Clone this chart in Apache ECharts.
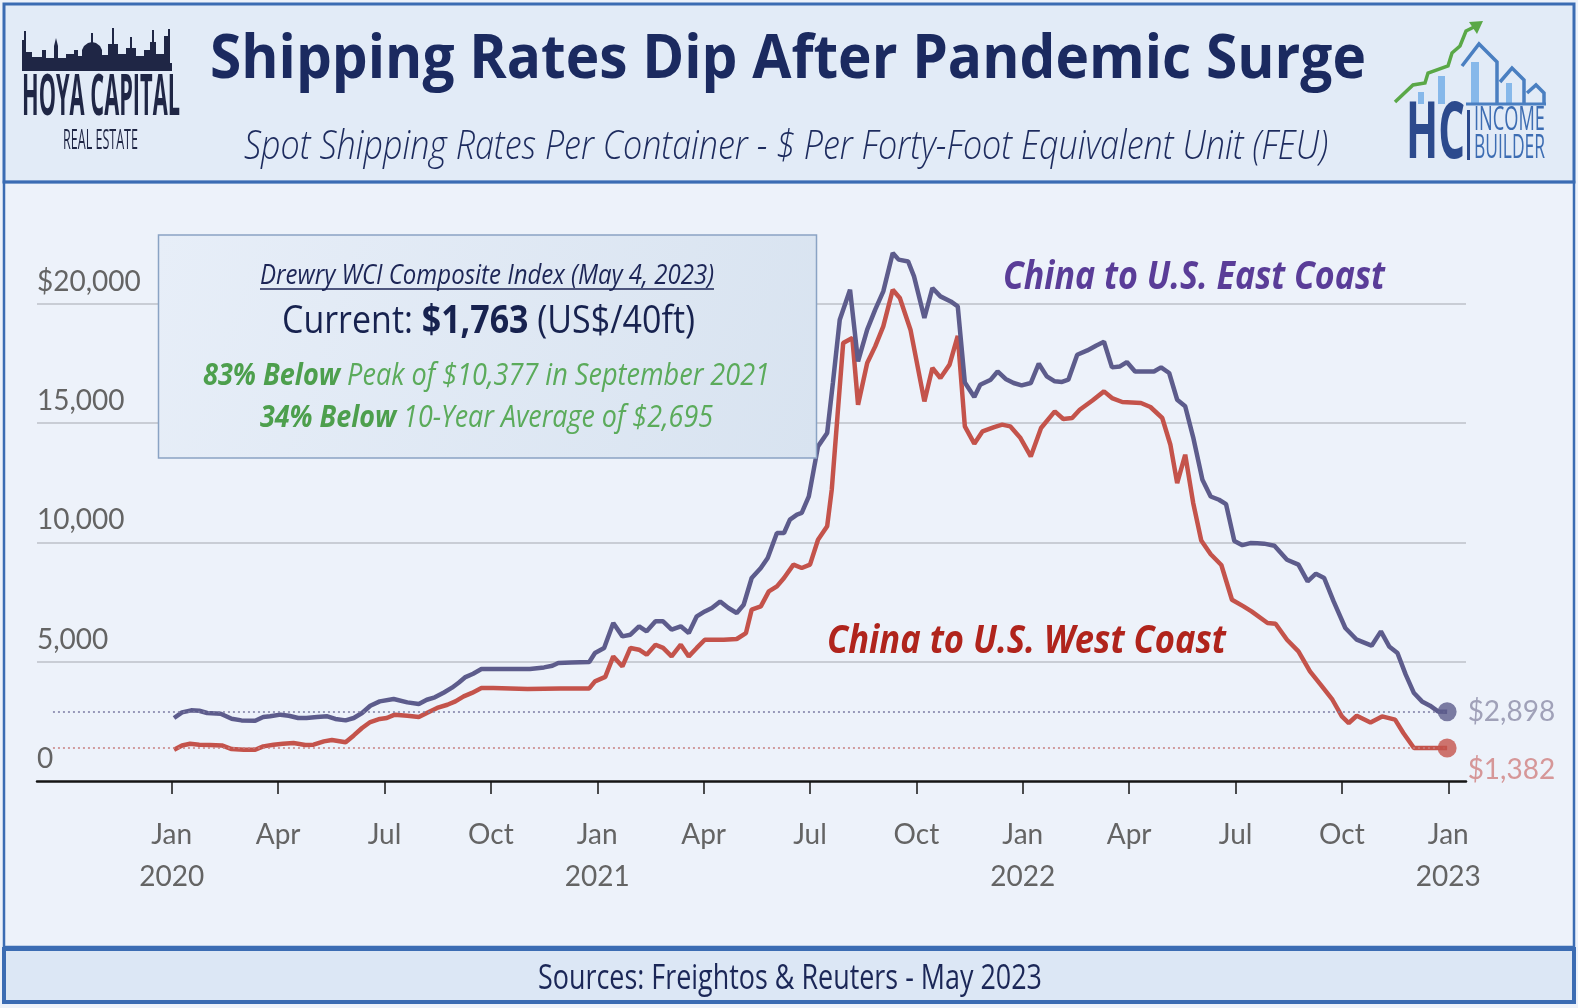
<!DOCTYPE html>
<html><head><meta charset="utf-8">
<script src="https://cdn.jsdelivr.net/npm/echarts@6/dist/echarts.min.js"></script>
<style>html,body{margin:0;padding:0;background:#edf2fa}#c{width:1578px;height:1008px}</style>
</head><body><div id="c"></div>
<script>
// ---------------- DATA ----------------
const eastDates = ['2020-01-03','2020-01-10','2020-01-18','2020-01-25','2020-02-01','2020-02-12','2020-02-21','2020-02-29','2020-03-12','2020-03-19','2020-03-25','2020-04-03','2020-04-10','2020-04-18','2020-04-25','2020-05-04','2020-05-13','2020-05-20','2020-05-29','2020-06-05','2020-06-12','2020-06-19','2020-06-27','2020-07-09','2020-07-21','2020-07-31','2020-08-07','2020-08-14','2020-08-22','2020-08-29','2020-09-04','2020-09-09','2020-09-16','2020-09-23','2020-10-03','2020-10-18','2020-11-04','2020-11-16','2020-11-23','2020-11-28','2020-12-09','2020-12-25','2020-12-30','2021-01-07','2021-01-15','2021-01-23','2021-01-30','2021-02-06','2021-02-12','2021-02-19','2021-02-25','2021-03-04','2021-03-12','2021-03-19','2021-03-26','2021-04-02','2021-04-08','2021-04-15','2021-04-22','2021-04-29','2021-05-05','2021-05-12','2021-05-20','2021-05-26','2021-06-03','2021-06-09','2021-06-14','2021-06-20','2021-06-24','2021-06-30','2021-07-08','2021-07-16','2021-07-21','2021-07-27','2021-08-05','2021-08-12','2021-08-20','2021-08-27','2021-09-03','2021-09-11','2021-09-16','2021-09-24','2021-09-29','2021-10-08','2021-10-15','2021-10-22','2021-10-31','2021-11-06','2021-11-12','2021-11-20','2021-11-25','2021-12-04','2021-12-10','2021-12-17','2021-12-24','2021-12-31','2022-01-08','2022-01-15','2022-01-22','2022-01-29','2022-02-04','2022-02-09','2022-02-16','2022-02-24','2022-03-03','2022-03-10','2022-03-17','2022-03-24','2022-03-30','2022-04-06','2022-04-14','2022-04-22','2022-04-28','2022-05-05','2022-05-12','2022-05-19','2022-05-26','2022-06-03','2022-06-10','2022-06-17','2022-06-23','2022-06-30','2022-07-07','2022-07-14','2022-07-20','2022-07-26','2022-08-04','2022-08-15','2022-08-25','2022-09-02','2022-09-09','2022-09-16','2022-09-24','2022-10-04','2022-10-14','2022-10-27','2022-11-04','2022-11-11','2022-11-18','2022-11-25','2022-12-02','2022-12-09','2022-12-16','2022-12-23','2022-12-31'];
const eastValues = [2640,2875,2960,2945,2850,2820,2610,2540,2525,2680,2710,2780,2735,2640,2640,2680,2710,2600,2540,2640,2850,3155,3335,3435,3295,3225,3405,3505,3710,3910,4130,4340,4495,4690,4690,4690,4690,4760,4830,4945,4970,4985,5365,5575,6620,6060,6130,6480,6270,6690,6690,6340,6480,6200,6900,7105,7250,7525,7250,7040,7385,8505,8925,9345,10390,10390,10950,11160,11230,11925,14020,14580,16675,19330,20585,17580,18910,19750,20515,22125,21845,21770,21145,19400,20655,20305,20095,19885,16700,16090,16605,16815,17160,16845,16675,16575,16675,17485,16955,16745,16720,16815,17860,18040,18240,18405,17330,17370,17555,17160,17160,17160,17330,17095,15975,15700,14400,12625,11920,11785,11600,10060,9880,9970,9960,9945,9860,9270,9065,8365,8685,8505,7525,6410,5920,5670,6270,5640,5365,4455,3685,3335,3155,2915,2898];

const westDates = ['2020-01-03','2020-01-10','2020-01-17','2020-01-25','2020-02-03','2020-02-13','2020-02-21','2020-03-02','2020-03-12','2020-03-19','2020-03-28','2020-04-05','2020-04-14','2020-04-24','2020-05-01','2020-05-10','2020-05-17','2020-05-29','2020-06-05','2020-06-12','2020-06-19','2020-06-27','2020-07-03','2020-07-10','2020-07-21','2020-07-31','2020-08-07','2020-08-16','2020-08-25','2020-09-01','2020-09-08','2020-09-15','2020-09-23','2020-10-03','2020-11-02','2020-11-30','2020-12-25','2020-12-30','2021-01-08','2021-01-15','2021-01-23','2021-01-30','2021-02-06','2021-02-12','2021-02-19','2021-02-25','2021-03-04','2021-03-12','2021-03-19','2021-03-26','2021-04-02','2021-04-18','2021-04-29','2021-05-07','2021-05-12','2021-05-20','2021-05-27','2021-06-03','2021-06-09','2021-06-17','2021-06-24','2021-07-01','2021-07-08','2021-07-16','2021-07-20','2021-07-25','2021-07-30','2021-08-07','2021-08-12','2021-08-20','2021-08-27','2021-09-03','2021-09-11','2021-09-17','2021-09-26','2021-10-08','2021-10-15','2021-10-22','2021-10-30','2021-11-06','2021-11-12','2021-11-20','2021-11-27','2021-12-07','2021-12-14','2021-12-21','2021-12-30','2022-01-08','2022-01-17','2022-01-29','2022-02-05','2022-02-12','2022-02-18','2022-02-28','2022-03-10','2022-03-17','2022-03-26','2022-04-11','2022-04-19','2022-04-29','2022-05-06','2022-05-12','2022-05-19','2022-05-26','2022-06-02','2022-06-10','2022-06-19','2022-06-28','2022-07-08','2022-07-15','2022-07-29','2022-08-05','2022-08-15','2022-08-25','2022-09-04','2022-09-13','2022-09-23','2022-10-01','2022-10-07','2022-10-14','2022-10-26','2022-11-05','2022-11-16','2022-11-23','2022-12-02','2022-12-31'];
const westValues = [1310,1490,1560,1520,1510,1490,1340,1310,1310,1450,1520,1560,1590,1510,1520,1660,1720,1620,1910,2220,2470,2600,2640,2780,2735,2680,2850,3060,3195,3335,3545,3690,3895,3895,3855,3880,3880,4175,4360,5220,4800,5575,5500,5290,5710,5575,5220,5710,5220,5575,5920,5920,5950,6200,7180,7315,7945,8155,8505,9065,8925,9065,10110,10670,12205,15280,18350,18560,15765,17515,18210,19050,20585,20240,18910,15905,17305,16885,17445,18650,14860,14135,14650,14830,14930,14860,14370,13600,14790,15485,15170,15210,15555,15945,16325,16045,15880,15840,15670,15210,14100,12485,13670,11650,10080,9500,9050,7595,7315,7105,6620,6590,5920,5430,4590,4035,3405,2705,2430,2735,2455,2705,2570,2010,1380,1382];

const seriesNames = ['China to U.S. East Coast', 'China to U.S. West Coast'];
const xTickMonths = [0,3,6,9,12,15,18,21,24,27,30,33,36];
const xTickLabels = ['Jan\n2020','Apr','Jul','Oct','Jan\n2021','Apr','Jul','Oct','Jan\n2022','Apr','Jul','Oct','Jan\n2023'];
const yTickValues = [0,5000,10000,15000,20000];
const yTickLabels = ['0','5,000','10,000','15,000','$20,000'];

// ---------------- HELPERS ----------------
function toMonth(s){ const p = s.split('-').map(Number); const dim = new Date(p[0], p[1], 0).getDate(); return (p[0]-2020)*12 + (p[1]-1) + (p[2]-1)/dim; }
function fmt(v){ return '$' + String(v).replace(/\B(?=(\d{3})+(?!\d))/g, ','); }
const eastData = eastDates.map((d,i)=>[toMonth(d), eastValues[i]]);
const westData = westDates.map((d,i)=>[toMonth(d), westValues[i]]);
const eastLast = eastData[eastData.length-1];
const westLast = westData[westData.length-1];

const mctx = document.createElement('canvas').getContext('2d');
const DY = 3;
function fitLine(parts, left, cy, width, z){
  const ws = parts.map(p => { mctx.font = p.font; return mctx.measureText(p.text).width; });
  const tot = ws.reduce((a,b)=>a+b,0); const s = width/tot;
  let x = left; const out = [];
  parts.forEach((p,i)=>{
    out.push({type:'text', x:x, y:cy+DY, scaleX:s, z:z||20, silent:true,
      style:{text:p.text, font:p.font, fill:p.color, textAlign:'left', textVerticalAlign:'middle'}});
    x += ws[i]*s;
  });
  return out;
}
const OS = '"Open Sans", "Noto Sans", sans-serif';
const NAVY = '#1b2a60';

// ---------------- DECORATION ----------------
const skyline = [[22,71],[22,40],[24,40],[24,31],[26,31],[26,52],[32,52],[32,57],[42,57],[42,50],[46,50],[46,58],[54,58],[54,46],[56,38],[58,46],[58,58],[66,58],[66,54],[74,54],[74,50],[78,50],[78,56],[82,56],[82,50],[84,46],[88,43],[92,42],[96,43],[100,46],[102,50],[102,55],[108,55],[108,44],[112,44],[112,28],[114,28],[114,44],[118,44],[118,54],[126,54],[126,48],[130,48],[130,37],[132,37],[132,48],[136,48],[136,56],[144,56],[144,50],[150,50],[150,42],[152,42],[152,30],[154,30],[154,42],[156,42],[156,54],[164,54],[164,36],[168,36],[168,29],[170,29],[170,63],[172,63],[172,71]];

const els = [
  {type:'rect', z:-5, silent:true, shape:{x:4,y:4,width:1570,height:178}, style:{fill:'#e2ebf7', stroke:'#3b6cb3', lineWidth:3}},
  {type:'rect', z:-5, silent:true, shape:{x:4,y:182,width:1570,height:765}, style:{fill:'none', stroke:'#3b6cb3', lineWidth:2.5}},
  {type:'rect', z:-5, silent:true, shape:{x:4,y:949,width:1570,height:53}, style:{fill:'#dce7f5', stroke:'#3b6cb3', lineWidth:4}},
  // left logo
  {type:'polygon', z:10, silent:true, shape:{points:skyline}, style:{fill:'#1f2645'}},
  {type:'rect', z:10, silent:true, shape:{x:91,y:33,width:2,height:10}, style:{fill:'#1f2645'}},
  // right logo
  {type:'rect', z:10, silent:true, shape:{x:1418,y:92,width:6,height:12}, style:{fill:'#86b8ea'}},
  {type:'rect', z:10, silent:true, shape:{x:1438,y:76,width:7,height:28}, style:{fill:'#86b8ea'}},
  {type:'rect', z:10, silent:true, shape:{x:1471,y:62,width:8,height:42}, style:{fill:'#86b8ea'}},
  {type:'rect', z:10, silent:true, shape:{x:1506,y:83,width:6,height:21}, style:{fill:'#86b8ea'}},
  {type:'polyline', z:10, silent:true, shape:{points:[[1462,66],[1479,44],[1497,62],[1497,104]]}, style:{stroke:'#4a7fc1', lineWidth:3.5, fill:null}},
  {type:'polyline', z:10, silent:true, shape:{points:[[1500,82],[1512,68],[1524,80],[1524,104]]}, style:{stroke:'#4a7fc1', lineWidth:3.5, fill:null}},
  {type:'polyline', z:10, silent:true, shape:{points:[[1527,93],[1536,85],[1544,93],[1544,104]]}, style:{stroke:'#4a7fc1', lineWidth:3.5, fill:null}},
  {type:'line', z:10, silent:true, shape:{x1:1466,y1:104,x2:1546,y2:104}, style:{stroke:'#4a7fc1', lineWidth:3}},
  {type:'polyline', z:11, silent:true, shape:{points:[[1395,102],[1413,85],[1425,83],[1428,73],[1448,66],[1452,53],[1460,46],[1466,31],[1474,27]]}, style:{stroke:'#5aa847', lineWidth:3.5, fill:null}},
  {type:'polygon', z:11, silent:true, shape:{points:[[1483,21],[1469,22],[1477,34]]}, style:{fill:'#5aa847'}},
  {type:'rect', z:10, silent:true, shape:{x:1467,y:110,width:3,height:50}, style:{fill:'#2c4a8d'}},
  // annotation box
  {type:'rect', z:8, silent:true, shape:{x:158.5,y:235,width:658,height:223},
    style:{fill:new echarts.graphic.LinearGradient(0,0,1,1,[{offset:0,color:'#e7eef8'},{offset:1,color:'#d8e3f0'}]), stroke:'#8aa3c4', lineWidth:1.5}},
  {type:'line', z:20, silent:true, shape:{x1:260,y1:289,x2:714,y2:289}, style:{stroke:'#1c2556', lineWidth:1.5}}
];
const texts = [].concat(
  fitLine([{text:'Shipping Rates Dip After Pandemic Surge', font:'bold 61px '+OS, color:NAVY}], 210, 58, 1156),
  fitLine([{text:'Spot Shipping Rates Per Container - $ Per Forty-Foot Equivalent Unit (FEU)', font:'italic 300 41px '+OS, color:'#1d2b5e'}], 244, 144, 1084),
  fitLine([{text:'HOYA CAPITAL', font:'bold 57px '+OS, color:'#1f2645'}], 22, 96, 158),
  fitLine([{text:'REAL ESTATE', font:'27px '+OS, color:'#1f2645'}], 63, 138, 75),
  fitLine([{text:'HC', font:'bold 78px '+OS, color:'#2c4a8d'}], 1406, 133, 59),
  fitLine([{text:'INCOME', font:'32px '+OS, color:'#3d6db3'}], 1474, 118, 71),
  fitLine([{text:'BUILDER', font:'32px '+OS, color:'#3d6db3'}], 1474, 146, 71),
  fitLine([{text:'Drewry WCI Composite Index (May 4, 2023)', font:'italic 28px '+OS, color:'#1c2556'}], 260, 273, 454),
  fitLine([{text:'Current: ', font:'39px '+OS, color:'#17224f'},{text:'$1,763', font:'bold 39px '+OS, color:'#17224f'},{text:' (US$/40ft)', font:'39px '+OS, color:'#17224f'}], 282, 319, 413),
  fitLine([{text:'83% Below', font:'italic bold 31px '+OS, color:'#4d9f4d'},{text:' Peak of $10,377 in September 2021', font:'italic 31px '+OS, color:'#5bab5b'}], 203, 373, 567),
  fitLine([{text:'34% Below', font:'italic bold 31px '+OS, color:'#4d9f4d'},{text:' 10-Year Average of $2,695', font:'italic 31px '+OS, color:'#5bab5b'}], 260, 415, 453),
  fitLine([{text:seriesNames[0], font:'italic bold 39px '+OS, color:'#5a3d98'}], 1003, 275, 382),
  fitLine([{text:seriesNames[1], font:'italic bold 39px '+OS, color:'#b0241c'}], 827, 639, 399),
  fitLine([{text:'Sources: Freightos & Reuters - May 2023', font:'35px '+OS, color:'#1b2757'}], 538, 976, 504)
);

// ---------------- CHART ----------------
const chart = echarts.init(document.getElementById('c'), null, {renderer:'canvas', width:1578, height:1008});
const LBL = {fontFamily:'Lato, "Open Sans", sans-serif', fontSize:28, color:'#646464'};
chart.setOption({
  backgroundColor:'#edf2fa',
  animation:false,
  grid:{left:37, right:112, top:244, bottom:227, containLabel:false},
  xAxis:{type:'value', min:-3.8, max:36.5,
    axisLine:{show:true, onZero:false, lineStyle:{color:'#151515', width:2.5}},
    axisTick:{show:true, customValues:xTickMonths, length:13, lineStyle:{color:'#151515', width:1.5}},
    axisLabel:Object.assign({customValues:xTickMonths, margin:33, lineHeight:42,
      formatter:function(v){ const i = xTickMonths.indexOf(Math.round(v)); return i>=0 ? xTickLabels[i] : ''; }}, LBL),
    splitLine:{show:false}},
  yAxis:{type:'value', min:0, max:22500, interval:5000,
    axisLine:{show:false}, axisTick:{show:false},
    splitLine:{show:true, showMinLine:false, showMaxLine:false, lineStyle:{color:'#bcc0c9', width:1.5}},
    axisLabel:Object.assign({inside:true, margin:0, align:'left', verticalAlign:'bottom', lineHeight:28, padding:[0,0,8,0], showMaxLabel:false,
      formatter:function(v){ const i = yTickValues.indexOf(v); return i>=0 ? yTickLabels[i] : ''; }}, LBL)},
  series:[
    {name:seriesNames[0], type:'line', data:eastData, showSymbol:false, z:4,
      lineStyle:{color:'#5d5c8c', width:4.5}, itemStyle:{color:'#5d5c8c'},
      markLine:{silent:true, symbol:['none','none'], label:{show:false},
        lineStyle:{type:[2,3], width:1.5, color:'#7c7ca4'},
        data:[[{coord:[-3.35, eastLast[1]]},{coord:[eastLast[0], eastLast[1]]}]]}},
    {name:seriesNames[1], type:'line', data:westData, showSymbol:false, z:3,
      lineStyle:{color:'#c4534b', width:4.5}, itemStyle:{color:'#c4534b'},
      markLine:{silent:true, symbol:['none','none'], label:{show:false},
        lineStyle:{type:[2,3], width:1.5, color:'#c98080'},
        data:[[{coord:[-3.35, westLast[1]]},{coord:[westLast[0], westLast[1]]}]]}},
    {type:'scatter', data:[eastLast], symbolSize:19, z:6, itemStyle:{color:'#5d5c8c'},
      label:{show:true, position:'right', distance:11, formatter:p=>fmt(p.value[1]), fontFamily:LBL.fontFamily, fontSize:28, color:'#8c8ca8'}},
    {type:'scatter', data:[westLast], symbolSize:19, z:6, itemStyle:{color:'#c4534b'},
      label:{show:true, position:'right', distance:11, offset:[0,22], formatter:p=>fmt(p.value[1]), fontFamily:LBL.fontFamily, fontSize:28, color:'#cf8080'}}
  ],
  graphic:{elements: els.concat(texts)}
});
</script>
</body></html>
